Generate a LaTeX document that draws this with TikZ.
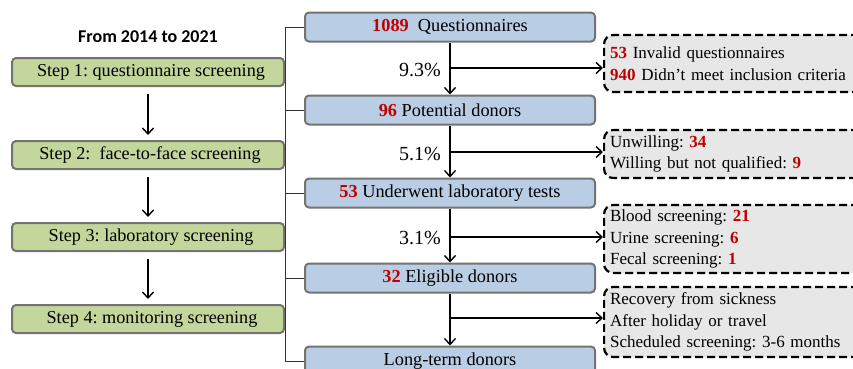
\documentclass[tikz,border=0pt]{standalone}
\usepackage{fontspec}
\setmainfont{Liberation Serif}
\newfontfamily\carl{Carlito}
\frenchspacing
\usetikzlibrary{arrows.meta}
\definecolor{stepgreen}{RGB}{195,214,155}
\definecolor{bluebox}{RGB}{185,205,229}
\definecolor{boxborder}{RGB}{115,115,115}
\definecolor{dashfill}{RGB}{231,231,231}
\definecolor{numred}{RGB}{192,0,0}
\newcommand{\rnum}[1]{\textcolor{numred}{\textbf{#1}}}
\begin{document}
\begin{tikzpicture}[x=1pt,y=-1pt,
 stepbox/.style={draw=boxborder, line width=2pt, fill=stepgreen, rounded corners=4pt, minimum width=272pt, minimum height=28pt, inner sep=0pt, font=\fontsize{18.2}{21}\selectfont},
 flowbox/.style={draw=boxborder, line width=2pt, fill=bluebox, rounded corners=4pt, minimum width=290pt, minimum height=29pt, inner sep=0pt, font=\fontsize{18.3}{21}\selectfont},
 exclbox/.style={draw=black, line width=2.2pt, dash pattern=on 8pt off 4pt, fill=dashfill, rounded corners=9pt, anchor=west, text width=252pt, inner xsep=6pt, inner ysep=0pt, align=left, font=\fontsize{17}{21.5}\selectfont},
 arr/.style={line width=1.4pt, -{Straight Barb[length=6pt,width=11pt]}},
 bracket/.style={line width=1pt, draw=black!80},
 pct/.style={font=\fontsize{20}{22}\selectfont},
]
\useasboundingbox (0,0) rectangle (853,368);
\clip (0,0) rectangle (853,368);
\fill[white] (0,0) rectangle (853,368);

% title
\node[font=\carl\bfseries\fontsize{18}{20}\selectfont] (title) at (148,37) {From 2014 to 2021};

% steps
\node[stepbox] (s1) at (148,72) {\hspace*{6pt}Step 1: questionnaire screening};
\node[stepbox] (s2) at (148,155) {\hspace*{4pt}Step 2:\ \ face-to-face screening};
\node[stepbox] (s3) at (148,237) {\hspace*{6pt}Step 3: laboratory screening};
\node[stepbox] (s4) at (148,319) {\hspace*{8pt}Step 4: monitoring screening};
\draw[arr, shorten <=7pt, shorten >=5pt] (s1.south) -- (s2.north);
\draw[arr, shorten <=7pt, shorten >=5pt] (s2.south) -- (s3.north);
\draw[arr, shorten <=7pt, shorten >=5pt] (s3.south) -- (s4.north);

% flow boxes
\node[flowbox] (b1) at (450,27) {\rnum{1089}\ \ Questionnaires};
\node[flowbox] (b2) at (450,110) {\rnum{96} Potential donors};
\node[flowbox] (b3) at (450,193) {\rnum{53} Underwent laboratory tests};
\node[flowbox] (b4) at (450,278) {\rnum{32} Eligible donors};
\node[flowbox] (b5) at (450,361) {Long-term donors};

% brackets
\draw[bracket] (b1.west) -- ++(-19,0) |- (b2.west);
\draw[bracket] (b2.west) -- ++(-19,0) |- (b3.west);
\draw[bracket] (b3.west) -- ++(-19,0) |- (b4.west);
\draw[bracket] (b4.west) -- ++(-19,0) |- (b5.west);

% vertical flow
\draw[arr] (b1.south) -- (b2.north);
\draw[arr] (b2.south) -- (b3.north);
\draw[arr] (b3.south) -- (b4.north);
\draw[arr] (b4.south) -- (b5.north);

% exclusion boxes
\node[exclbox, minimum height=57pt] (e1) at (603,63.5) {\rnum{53} Invalid questionnaires\\\rnum{940} Didn’t meet inclusion criteria};
\node[exclbox, minimum height=48pt] (e2) at (603,154) {Unwilling: \rnum{34}\\Willing but not qualified: \rnum{9}};
\node[exclbox, minimum height=68pt] (e3) at (603,239) {Blood screening: \rnum{21}\\Urine screening: \rnum{6}\\Fecal screening: \rnum{1}};
\node[exclbox, minimum height=70pt] (e4) at (603,322) {Recovery from sickness\\After holiday or travel\\Scheduled screening: 3-6 months};

% branch points
\coordinate (j1) at (450,68);
\coordinate (j2) at (450,152);
\coordinate (j3) at (450,237);
\coordinate (j4) at (450,318);
\draw[arr] (j1) -- (e1.west |- j1);
\draw[arr] (j2) -- (e2.west |- j2);
\draw[arr] (j3) -- (e3.west |- j3);
\draw[arr] (j4) -- (e4.west |- j4);

% percentages
\node[pct] (p1) at (420,70) {9.3\%};
\node[pct] (p2) at (420,154) {5.1\%};
\node[pct] (p3) at (420,238) {3.1\%};
\end{tikzpicture}
\end{document}
